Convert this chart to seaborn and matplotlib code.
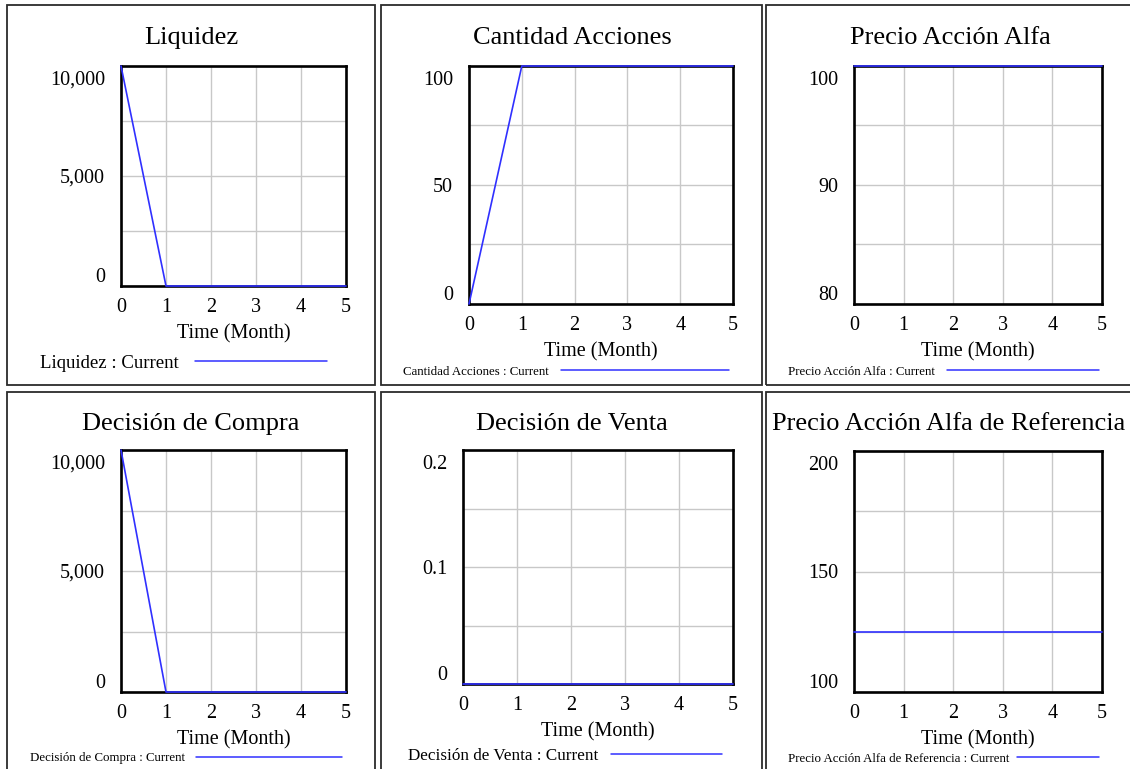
import matplotlib
matplotlib.use("Agg")
import matplotlib.pyplot as plt
import matplotlib.transforms as mtransforms
from matplotlib.lines import Line2D
from matplotlib.patches import Rectangle
from matplotlib.ticker import FixedLocator, MultipleLocator
import seaborn as sns

# ---- data -------------------------------------------------------------
time_month = [0, 1, 2, 3, 4, 5]

liquidez = [10000, 0, 0, 0, 0, 0]
cantidad_acciones = [0, 100, 100, 100, 100, 100]
precio_accion_alfa = [100, 100, 100, 100, 100, 100]
decision_compra = [10000, 0, 0, 0, 0, 0]
decision_venta = [0, 0, 0, 0, 0, 0]
precio_referencia = [125, 125, 125, 125, 125, 125]

titles = ["Liquidez", "Cantidad Acciones", "Precio Acción Alfa",
          "Decisión de Compra", "Decisión de Venta",
          "Precio Acción Alfa de Referencia"]
series = [liquidez, cantidad_acciones, precio_accion_alfa,
          decision_compra, decision_venta, precio_referencia]
y_ticks = [[0, 5000, 10000], [0, 50, 100], [80, 90, 100],
           [0, 5000, 10000], [0, 0.1, 0.2], [100, 150, 200]]
y_tick_labels = [["0", "5,000", "10,000"], ["0", "50", "100"],
                 ["80", "90", "100"], ["0", "5,000", "10,000"],
                 ["0", "0.1", "0.2"], ["100", "150", "200"]]
x_label = "Time (Month)"
legend_suffix = " : Current"

# ---- layout (pixels) --------------------------------------------------
W, H = 1130, 769
# axes rectangles: left, right, top, bottom
axes_px = [(121, 346, 66, 286), (469, 733, 66, 304), (854, 1102, 66, 304),
           (121, 346, 450, 692), (463, 733, 450, 684), (854, 1102, 451, 692)]
# panel frames: left, right, top, bottom
panel_px = [(7, 375, 5, 385), (381, 762, 5, 385), (766, 1136, 5, 385),
            (7, 375, 392, 775), (381, 762, 392, 775), (766, 1136, 392, 775)]
title_px = [(191, 44), (572, 44), (950, 44), (191, 430), (572, 430), (949, 430)]
# legend: text x, line x0, line x1, y, font size
legend_px = [(40, 195, 327, 361, 13.5), (403, 561, 729, 370, 9.3),
             (788, 947, 1099, 370, 9.3), (30, 196, 342, 757, 9.3),
             (408, 611, 722, 754, 12.3), (788, 1017, 1099, 757, 9.3)]

sns.set_style("white")
plt.rcParams["font.family"] = ["Liberation Serif", "DejaVu Serif"]

LINE_BLUE = "#3030ff"
GRID_GREY = "#c8c8c8"

fig = plt.figure(figsize=(W / 100, H / 100), dpi=100)
fig.patch.set_facecolor("white")


def fx(px):
    return px / W


def fy(py):
    return 1 - py / H


for i in range(6):
    # panel frame
    pl, pr, pt, pb = panel_px[i]
    fig.add_artist(Rectangle((fx(pl), fy(pb)), fx(pr - pl), (pb - pt) / H,
                             transform=fig.transFigure, fill=False,
                             edgecolor="#2b2b2b", linewidth=1.3, zorder=0))

    l, r, t, b = axes_px[i]
    ax = fig.add_axes([fx(l), fy(b), fx(r - l), (b - t) / H])
    ticks = y_ticks[i]
    lo, hi = ticks[0], ticks[-1]

    sns.lineplot(x=time_month, y=series[i], ax=ax, color=LINE_BLUE,
                 linewidth=1.2, clip_on=False, zorder=5)

    ax.set_xlim(0, 5)
    ax.set_ylim(lo, hi)
    ax.xaxis.set_major_locator(FixedLocator(time_month))
    ax.set_xticklabels([str(v) for v in time_month])
    ax.yaxis.set_major_locator(FixedLocator(ticks))
    ax.yaxis.set_minor_locator(MultipleLocator((hi - lo) / 4))
    ax.set_yticklabels(y_tick_labels[i])

    ax.grid(True, which="both", color=GRID_GREY, linewidth=1.0, zorder=1)
    ax.set_axisbelow(True)
    for sp in ax.spines.values():
        sp.set_visible(True)
        sp.set_color("black")
        sp.set_linewidth(1.9)
        sp.set_zorder(3)

    ax.tick_params(axis="x", length=0, pad=8.5, labelsize=14.5, colors="black")
    ax.tick_params(axis="y", length=0, pad=11.5, labelsize=14.5, colors="black")
    ax.tick_params(axis="y", which="minor", length=0)

    ax.set_xlabel(x_label, fontsize=14.5, labelpad=5, color="black")
    ax.set_ylabel("")

    # end labels on the value axis sit just inside the axis range
    yt = ax.yaxis.get_major_ticks()
    shift_down = mtransforms.ScaledTranslation(0, -12 / 100, fig.dpi_scale_trans)
    shift_up = mtransforms.ScaledTranslation(0, 11 / 100, fig.dpi_scale_trans)
    yt[0].label1.set_transform(yt[0].label1.get_transform() + shift_up)
    yt[-1].label1.set_transform(yt[-1].label1.get_transform() + shift_down)

    # title
    tx, ty = title_px[i]
    fig.text(fx(tx), fy(ty), titles[i], ha="center", va="baseline",
             fontsize=19, color="black")

    # legend entry
    lx, lx0, lx1, ly, lfs = legend_px[i]
    fig.text(fx(lx), fy(ly), titles[i] + legend_suffix, ha="left",
             va="center_baseline", fontsize=lfs, color="black")
    fig.add_artist(Line2D([fx(lx0), fx(lx1)], [fy(ly), fy(ly)],
                          transform=fig.transFigure, color=LINE_BLUE,
                          linewidth=1.1))

fig.savefig("out.png", dpi=100, facecolor="white")
